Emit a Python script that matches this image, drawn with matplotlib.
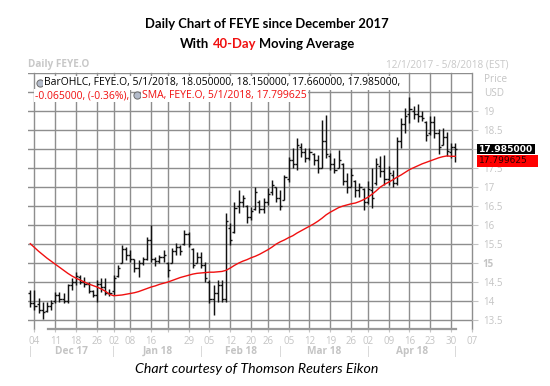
import matplotlib
matplotlib.use("Agg")
import matplotlib.pyplot as plt
from matplotlib.lines import Line2D
from matplotlib.patches import Rectangle
from matplotlib.transforms import blended_transform_factory
import numpy as np

W, H = 550, 386

# daily bars, trading days 1 Dec 2017 .. 1 May 2018 (index 0 .. 102)
highs = [14.28, 14.28, 14.06, 13.97, 13.97, 14.02, 14.24, 14.24, 14.19, 14.45,
         14.59, 14.76, 14.67, 14.63, 14.50, 14.28, 14.54, 14.59, 14.59, 14.32,
         14.67, 14.94, 15.46, 15.42, 15.33, 15.11, 15.07, 15.16, 15.68, 15.99,
         15.16, 15.20, 15.33, 15.03, 15.38, 15.51, 15.46, 15.86, 15.82, 15.38,
         15.29, 15.29, 15.03, 14.54, 14.41, 14.54, 14.54, 16.30, 16.04, 16.61,
         16.91, 16.78, 16.52, 16.47, 17.00, 16.65, 16.70, 16.96, 17.18, 17.00,
         16.91, 17.31, 17.79, 18.01, 18.27, 18.14, 18.01, 18.01, 17.88, 17.83,
         18.75, 18.89, 17.88, 17.75, 17.97, 17.62, 17.35, 17.48, 17.18, 17.10,
         16.96, 17.15, 17.50, 17.75, 17.80, 17.83, 17.55, 17.45, 18.30, 18.80,
         19.08, 19.37, 19.12, 19.18, 19.00, 18.72, 18.85, 18.85, 18.52, 18.54,
         18.45, 18.14, 18.15]
lows = [13.84, 13.75, 13.67, 13.53, 13.69, 13.75, 13.93, 13.96, 13.93, 13.93,
        14.28, 14.41, 14.43, 14.37, 14.19, 14.10, 13.96, 14.24, 14.15, 14.13,
        14.15, 14.63, 14.98, 15.07, 15.03, 14.76, 14.63, 14.94, 15.07, 15.03,
        14.90, 14.98, 15.03, 14.63, 14.98, 15.20, 15.20, 15.46, 15.42, 14.85,
        14.98, 14.85, 14.50, 13.95, 13.62, 13.97, 13.97, 13.97, 15.47, 15.77,
        16.30, 16.47, 16.04, 16.12, 16.39, 16.30, 16.30, 16.52, 16.78, 16.61,
        16.39, 16.65, 17.13, 17.48, 17.44, 17.79, 17.66, 17.70, 17.57, 17.35,
        17.48, 17.75, 17.44, 17.35, 17.49, 17.05, 16.83, 16.99, 16.74, 16.72,
        16.39, 16.55, 16.43, 17.05, 17.25, 17.05, 17.05, 17.00, 17.04, 18.01,
        18.40, 18.67, 18.78, 18.70, 18.72, 18.20, 18.36, 18.27, 17.85, 18.10,
        17.80, 17.75, 17.66]
opens = [14.20, 13.95, 13.90, 13.75, 13.72, 13.85, 13.98, 14.15, 14.05, 13.98,
         14.40, 14.50, 14.62, 14.50, 14.45, 14.25, 14.15, 14.45, 14.35, 14.20,
         14.25, 14.65, 15.00, 15.35, 15.20, 15.10, 14.85, 15.00, 15.10, 15.60,
         15.10, 15.05, 15.15, 15.00, 14.98, 15.30, 15.40, 15.50, 15.75, 15.35,
         15.00, 15.15, 14.95, 14.50, 14.05, 14.20, 14.40, 14.05, 15.90, 15.80,
         16.50, 16.60, 16.50, 16.20, 16.40, 16.60, 16.40, 16.60, 16.85, 17.00,
         16.70, 16.65, 17.20, 17.70, 17.60, 18.05, 17.90, 17.75, 17.85, 17.70,
         17.50, 18.20, 17.80, 17.60, 17.50, 17.60, 17.15, 17.00, 17.15, 16.90,
         16.95, 16.60, 16.90, 17.10, 17.55, 17.40, 17.20, 17.30, 17.10, 18.20,
         18.65, 18.90, 19.00, 18.90, 18.85, 18.70, 18.40, 18.70, 18.40, 18.10,
         18.30, 17.90, 18.05]
closes = [13.95, 13.85, 13.75, 13.70, 13.85, 13.95, 14.15, 14.05, 13.98, 14.40,
          14.50, 14.65, 14.50, 14.45, 14.25, 14.15, 14.45, 14.35, 14.20, 14.20,
          14.60, 14.85, 15.35, 15.20, 15.10, 14.85, 15.00, 15.10, 15.60, 15.10,
          15.05, 15.15, 15.20, 14.80, 15.30, 15.40, 15.30, 15.75, 15.50, 14.95,
          15.15, 14.95, 14.60, 14.05, 14.20, 14.40, 14.05, 16.10, 15.60, 16.45,
          16.60, 16.70, 16.20, 16.35, 16.85, 16.40, 16.60, 16.80, 17.05, 16.70,
          16.50, 17.25, 17.70, 17.60, 18.10, 17.90, 17.75, 17.90, 17.70, 17.50,
          18.20, 17.85, 17.60, 17.45, 17.70, 17.15, 17.00, 17.30, 16.90, 17.00,
          16.60, 16.95, 16.70, 17.60, 17.40, 17.20, 17.35, 17.10, 18.20, 18.65,
          18.85, 19.05, 18.90, 18.85, 18.80, 18.35, 18.70, 18.40, 18.05, 18.30,
          17.95, 18.05, 17.985]
sma40 = [15.50, 15.40, 15.30, 15.21, 15.12, 15.04, 14.96, 14.88, 14.80, 14.72,
         14.65, 14.59, 14.54, 14.49, 14.44, 14.40, 14.36, 14.31, 14.25, 14.17,
         14.13, 14.14, 14.15, 14.17, 14.19, 14.21, 14.24, 14.28, 14.32, 14.36,
         14.39, 14.43, 14.46, 14.49, 14.53, 14.57, 14.61, 14.64, 14.67, 14.70,
         14.72, 14.73, 14.74, 14.75, 14.75, 14.76, 14.77, 14.80, 14.86, 14.93,
         14.99, 15.04, 15.08, 15.13, 15.17, 15.22, 15.28, 15.34, 15.41, 15.49,
         15.55, 15.60, 15.66, 15.71, 15.78, 15.84, 15.90, 15.96, 16.02, 16.09,
         16.17, 16.26, 16.33, 16.39, 16.45, 16.49, 16.52, 16.55, 16.57, 16.61,
         16.66, 16.72, 16.80, 16.89, 16.99, 17.06, 17.12, 17.18, 17.25, 17.31,
         17.38, 17.45, 17.50, 17.55, 17.60, 17.64, 17.68, 17.72, 17.76, 17.79,
         17.81, 17.80, 17.799625]

# weekly grid (trading-day index) and its labels
week_ticks = [1, 6, 11, 16, 20, 24, 29, 33, 38, 43, 48, 53, 57, 62, 67, 72,
              77, 81, 86, 91, 96, 101, 106]
week_labels = ["04", "11", "18", "26", "02", "08", "16", "", "29", "05", "12",
               "20", "26", "05", "12", "19", "26", "02", "09", "16", "23", "30", "07"]
month_starts = [0, 20, 41, 60, 81, 102]
month_names = ["Dec 17", "Jan 18", "Feb 18", "Mar 18", "Apr 18"]
price_ticks = [13.5, 14, 14.5, 15, 15.5, 16, 16.5, 17, 17.5, 18, 18.5, 19]
# "18" sits under the last-price box in the original
price_labels = ["13.5", "14", "14.5", "15", "15.5", "16", "16.5", "17", "17.5",
                "", "18.5", "19"]

GRID = "#8e8e8e"
LIGHT = "#c4c4c4"
RED = "#f01010"
UI = "Open Sans"
TITLE = "Lato"

fig = plt.figure(figsize=(W / 100, H / 100), dpi=100)
left, right, top, bottom = 27.8, 472, 72.7, 329
ax = fig.add_axes([left / W, 1 - bottom / H, (right - left) / W, (bottom - top) / H])
ax.set_xlim(-0.6, 106)
ax.set_ylim(13.255, 20.0)

for y in np.arange(13.5, 20.01, 0.5):
    ax.axhline(y, color=GRID, lw=1.0, zorder=1)
for x in week_ticks:
    ax.axvline(x, color=GRID, lw=1.0, zorder=1, clip_on=False)

idx = np.arange(len(highs))
ax.vlines(idx, lows, highs, color="#111111", lw=1.05, zorder=3)
ax.hlines(opens, idx - 0.5, idx, color="#111111", lw=1.0, zorder=3)
ax.hlines(closes, idx, idx + 0.5, color="#111111", lw=1.0, zorder=3)
ax.plot(idx, sma40, color=RED, lw=1.0, zorder=4)

for side in ["top", "left", "right"]:
    ax.spines[side].set_visible(False)
ax.spines["bottom"].set_bounds(4.2, 102.1)
ax.spines["bottom"].set_color("#9a9a9a")
ax.spines["bottom"].set_linewidth(1.6)

ax.set_xticks(week_ticks, week_labels)
ax.tick_params(axis="x", length=2.2, color=LIGHT, labelcolor=LIGHT, labelsize=7, pad=2.5)
ax.yaxis.tick_right()
ax.set_yticks(price_ticks, price_labels)
ax.tick_params(axis="y", length=4.3, color=LIGHT, labelcolor=LIGHT, labelsize=7, pad=3.5)
for lab in ax.get_xticklabels() + ax.get_yticklabels():
    lab.set_family(UI)
ax.get_yticklabels()[3].set_fontweight("bold")

# month row under the day labels
tr = blended_transform_factory(ax.transData, ax.transAxes)
my = -(351.5 - bottom) / (bottom - top)
for m in month_starts:
    ax.text(m, my, "|", transform=tr, ha="center", va="center", color=LIGHT,
            fontsize=7, family=UI)
for a, b, name in zip(month_starts[:-1], month_starts[1:], month_names):
    ax.text((a + b) / 2, my, name, transform=tr, ha="center", va="center",
            color=LIGHT, fontsize=7.3, family=UI, fontweight="bold")


def fx(x):
    return x / W


def fy(y):
    return 1 - y / H


renderer = fig.canvas.get_renderer()


def width(s, **kw):
    t = fig.text(0, 0, s, **kw)
    w = t.get_window_extent(renderer).width
    t.remove()
    return w


def text_row(pieces, x, y, center=False, **common):
    # each piece ends where the joined string up to it would end
    full = "".join(s for s, _ in pieces)
    total = width(full, **common)
    x0 = x - total / 2 if center else x
    prefix = ""
    for s, color in pieces:
        prefix += s
        fig.text(fx(x0 + width(prefix, **common)), fy(y), s.lstrip(), color=color,
                 va="center", ha="right", **common)
    return x0 + total


# last-value boxes on the price scale
y_close = ax.transData.transform((0, closes[-1]))[1]
yc = H - y_close
fig.add_artist(Rectangle((fx(477), fy(yc + 4.6)), 58 / W, 9.6 / H, transform=fig.transFigure,
                         fc="black", ec="none"))
fig.text(fx(479), fy(yc + 0.3), "%.6f" % closes[-1], color="white", fontsize=6.6,
         fontweight="bold", family="DejaVu Sans", va="center", ha="left")
fig.add_artist(Rectangle((fx(477), fy(167)), 61 / W, 12 / H, transform=fig.transFigure,
                         fc="#ff0000", ec="none"))
fig.text(fx(479), fy(161), "%.6f" % sma40[-1], color="#2a0000", fontsize=6.5,
         family="DejaVu Sans", va="center", ha="left")

fig.text(fx(484), fy(80), "Price", color=LIGHT, fontsize=7.2, family=UI, va="center")
fig.text(fx(484), fy(93.5), "USD", color=LIGHT, fontsize=7.2, family=UI, va="center")

# header
fig.text(fx(28), fy(65), "Daily FEYE.O", color="#c8c8c8", fontsize=7.2, family=UI,
         fontweight="bold", va="center")
fig.text(fx(508), fy(65), "12/1/2017 - 5/8/2018 (EST)", color="#c8c8c8", fontsize=7.2,
         family=UI, va="center", ha="right")

fig.text(fx(267), fy(24), "Daily Chart of FEYE since December 2017", fontsize=9.4,
         family=TITLE, fontweight="bold", ha="center", va="center")
text_row([("With", "black"), (" 40-Day", RED), (" Moving Average", "black")],
         267.5, 44.5, center=True, fontsize=9.4, family=TITLE, fontweight="bold")

fig.text(fx(257), fy(369), "Chart courtesy of Thomson Reuters Eikon", fontsize=10.2,
         family=TITLE, style="italic", ha="center", va="center")


def icon(x, y):
    fig.add_artist(Line2D([fx(x)], [fy(y)], marker="o", markersize=5.2, mfc="#b4bccb",
                          mec="#6c6c6c", mew=0.7, transform=fig.transFigure))


legend_kw = dict(fontsize=7.5, family=UI,
                 bbox=dict(boxstyle="square,pad=0.1", fc="white", ec="none"))
icon(40, 83)
text_row([("BarOHLC, FEYE.O, 5/1/2018, %.6f, %.6f, %.6f, %.6f,"
           % (opens[-1], highs[-1], lows[-1], closes[-1]), "black")], 44, 83, **legend_kw)
chg = closes[-1] - opens[-1]
end = text_row([("%.6f, (%.2f%%)," % (chg, chg / opens[-1] * 100), RED)], 35, 95.5, **legend_kw)
icon(end + 8, 95)
text_row([("SMA, FEYE.O, 5/1/2018, %.6f" % sma40[-1], RED)], end + 13, 95.5, **legend_kw)

fig.savefig("out.png", dpi=100)
